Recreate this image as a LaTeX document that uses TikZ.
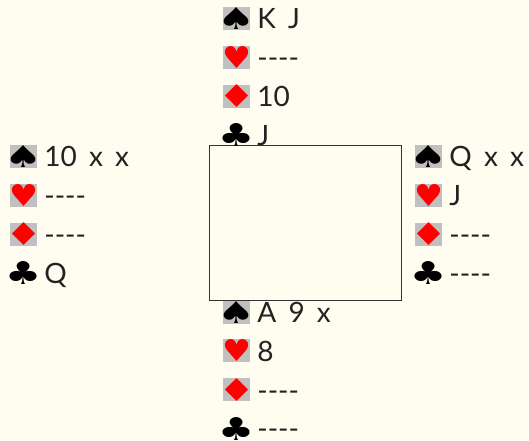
\documentclass[tikz,border=0pt]{standalone}
\usepackage{fontspec}
\usetikzlibrary{positioning}
\newfontfamily\suitfont{DejaVu Sans}
\newfontfamily\cardfont[WordSpace=1.7]{Lato}
\definecolor{felt}{RGB}{255,253,240}
\definecolor{suitgray}{RGB}{192,192,192}
\definecolor{ink}{RGB}{34,34,34}
\definecolor{tableline}{RGB}{51,51,51}

\tikzset{
  suit/.style={fill=suitgray, minimum width=27pt, minimum height=23pt, inner sep=0pt},
  clubsuit/.style={suit, fill=none},
  holding/.style={anchor=base west, inner sep=0pt, text=ink,
    font=\cardfont\fontsize{28}{30}\selectfont},
}

% glyph squeezed to the icon size: width, height, symbol
\newcommand\pip[3]{\makebox[27pt][c]{\resizebox*{#1}{#2}{\suitfont #3}}}

% one hand: name, x, y of the spade icon, then spades, hearts, diamonds, clubs
\newcommand\hand[7]{%
  \node[suit] (#1s) at (#2,#3) {\pip{38pt}{22pt}{♠}};
  \node[suit, text=red, below=15.5pt of #1s] (#1h) {\pip{29pt}{22pt}{♥}};
  \node[suit, text=red, below=15.5pt of #1h] (#1d) {\pip{37pt}{23pt}{♦}};
  \node[clubsuit, below=15.5pt of #1d] (#1c) {\pip{36pt}{23pt}{♣}};
  \node[holding] (#1st) at ([xshift=7pt, yshift=1.5pt]#1s.south east) {#4};
  \node[holding] (#1ht) at ([xshift=7pt, yshift=1.5pt]#1h.south east) {#5};
  \node[holding] (#1dt) at ([xshift=7pt, yshift=1.5pt]#1d.south east) {#6};
  \node[holding] (#1ct) at ([xshift=7pt, yshift=1.5pt]#1c.south east) {#7};
}

\begin{document}
\begin{tikzpicture}[x=1pt, y=1pt]
  \fill[felt] (0,0) rectangle (529,-440);
  \node[draw=tableline, line width=1pt, minimum width=192.5pt, minimum height=154.5pt,
    inner sep=0pt] (table) at (305.25,-222.75) {};
  \hand{north}{236.5}{-18.5}{K J}{----}{10}{J}
  \hand{west}{23.5}{-156.5}{10 x x}{----}{----}{Q}
  \hand{east}{428.5}{-156.5}{Q x x}{J}{----}{----}
  \hand{south}{236.5}{-312}{A 9 x}{8}{----}{----}
\end{tikzpicture}
\end{document}
